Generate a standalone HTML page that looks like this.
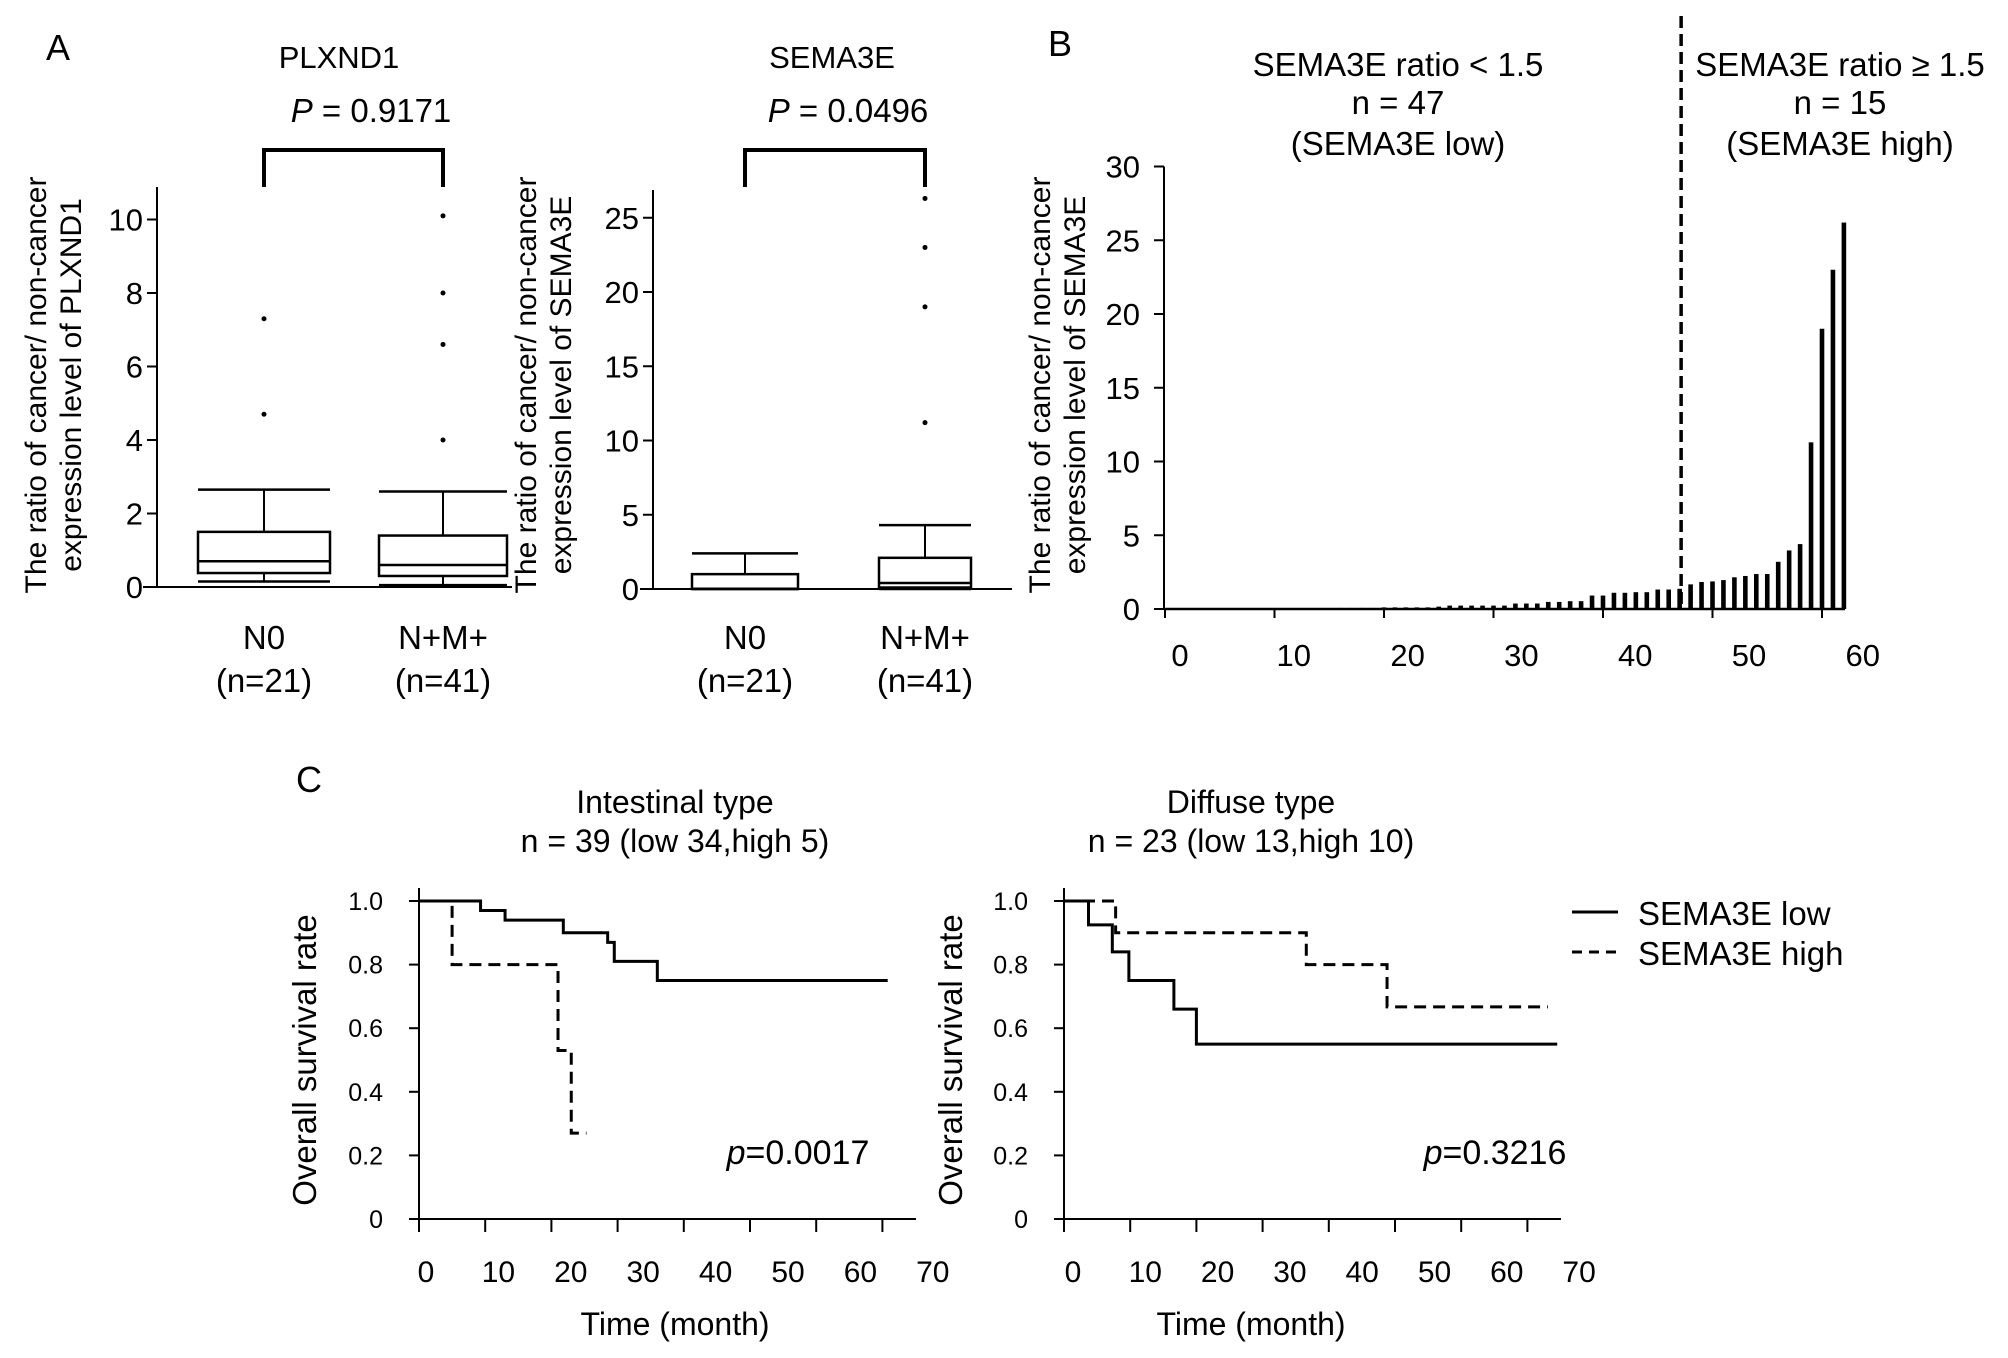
<!DOCTYPE html>
<html><head><meta charset="utf-8"><style>
html,body{margin:0;padding:0;background:#fff;}
svg{display:block;font-family:"Liberation Sans",Arial,sans-serif;}
</style></head><body>
<svg id="fig" width="2008" height="1358" viewBox="0 0 2008 1358" xmlns="http://www.w3.org/2000/svg">
<rect width="2008" height="1358" fill="#fff"/>
<g id="root"></g>
</svg>
<script>
// ---- Panel A data ----
const plxGroups = ["N0", "N+M+"];
const plxN = ["(n=21)", "(n=41)"];
const plxLowWhisker = [0.15, 0.05];
const plxQ1 = [0.38, 0.3];
const plxMedian = [0.7, 0.6];
const plxQ3 = [1.5, 1.4];
const plxHighWhisker = [2.65, 2.6];
const plxOutliersN0 = [4.7, 7.3];
const plxOutliersNM = [4.0, 6.6, 8.0, 10.1];
const plxTicks = [0, 2, 4, 6, 8, 10];

const semaLowWhisker = [0, 0];
const semaQ1 = [0, 0.1];
const semaMedian = [0.02, 0.4];
const semaQ3 = [1.0, 2.1];
const semaHighWhisker = [2.4, 4.3];
const semaOutliersN0 = [];
const semaOutliersNM = [11.2, 19.0, 23.0, 26.3];
const semaTicks = [0, 5, 10, 15, 20, 25];

// ---- Panel B data ----
const ratioValues = [0,0,0,0,0,0,0,0,0,0,0,0,0,0,0,
 0.07,0.07,0.07,0.07,0.11,0.11,0.11,0.11,0.11,0.16,
 0.23,0.23,0.23,0.23,0.23,0.23,0.37,0.37,0.37,0.48,0.48,0.53,0.53,
 0.91,0.91,1.1,1.1,1.14,1.14,1.32,1.32,1.37,
 1.67,1.83,1.87,1.96,2.15,2.24,2.37,2.37,3.2,3.97,4.4,11.3,19.0,23.0,26.2];
const ratioYTicks = [0, 5, 10, 15, 20, 25, 30];
const ratioXTicks = [0, 10, 20, 30, 40, 50, 60];
const cutoffIndex = 47.5;

// ---- Panel C data (step points: [time, survival]) ----
const intLowT = [0, 9.3, 13, 21.8, 28.5, 29.5, 36, 70.8];
const intLowS = [1.0, 0.97, 0.94, 0.90, 0.87, 0.81, 0.75, 0.75];
const intHighT = [0, 5, 21, 23, 25.3];
const intHighS = [1.0, 0.8, 0.53, 0.27, 0.27];
const difLowT = [0, 3.7, 7.3, 9.8, 16.6, 20, 74.5];
const difLowS = [1.0, 0.925, 0.84, 0.75, 0.66, 0.55, 0.55];
const difHighT = [0, 7.8, 36.6, 48.8, 73.1];
const difHighS = [1.0, 0.9, 0.8, 0.667, 0.667];
const kmYTicks = ["0", "0.2", "0.4", "0.6", "0.8", "1.0"];
const kmYVals = [0, 0.2, 0.4, 0.6, 0.8, 1.0];
const kmXTicks = [0, 10, 20, 30, 40, 50, 60, 70];

const NS = "http://www.w3.org/2000/svg";
const root = document.getElementById('root');
function mk(tag, attrs, parent, text) {
  const e = document.createElementNS(NS, tag);
  for (const k in attrs) e.setAttribute(k, attrs[k]);
  if (text !== undefined) e.textContent = text;
  (parent || root).appendChild(e);
  return e;
}
function line(x1, y1, x2, y2, p, w, dash) {
  const a = {x1, y1, x2, y2, stroke: '#000', 'stroke-width': w || 2};
  if (dash) a['stroke-dasharray'] = dash;
  return mk('line', a, p);
}
function txt(x, y, s, size, anchor, p, extra) {
  const a = {x, y, 'font-size': size, 'text-anchor': anchor || 'middle', fill: '#000'};
  if (extra) for (const k in extra) a[k] = extra[k];
  return mk('text', a, p, s);
}

// Panel letters
let t;
t = txt(46, 60, 'A', 36, 'start');  
t = txt(1048, 56, 'B', 36, 'start');  
t = txt(296, 792, 'C', 36, 'start');  

// ---------- Box plot panel ----------
function boxPanel(cfg) {
  const g = mk('g', {});
  
  
  const y = v => cfg.y0 - v * cfg.k;
  line(cfg.ax, cfg.top, cfg.ax, cfg.y0, g, 2);
  line(cfg.bx1, cfg.y0, cfg.bx2, cfg.y0, g, 2);
  cfg.ticks.forEach(v => {
    line(cfg.ax - 10, y(v), cfg.ax, y(v), g, 2);
    const tl = txt(cfg.ax - 14, y(v) + 11, String(v), 31, 'end', g);
    
    
  });
  for (let i = 0; i < 2; i++) {
    const xc = cfg.xc[i], hw = cfg.hw[i];
    const bg = mk('g', {}, g);
    
    
    line(xc, y(cfg.hiW[i]), xc, y(cfg.q3[i]), bg, 2);
    line(xc - hw, y(cfg.hiW[i]), xc + hw, y(cfg.hiW[i]), bg, 2.5);
    line(xc, y(cfg.q1[i]), xc, y(cfg.loW[i]), bg, 2);
    line(xc - hw, y(cfg.loW[i]), xc + hw, y(cfg.loW[i]), bg, 2.5);
    mk('rect', {x: xc - hw, y: y(cfg.q3[i]), width: 2 * hw, height: y(cfg.q1[i]) - y(cfg.q3[i]), fill: 'none', stroke: '#000', 'stroke-width': 2.5}, bg);
    line(xc - hw, y(cfg.med[i]), xc + hw, y(cfg.med[i]), bg, 2.5);
    cfg.out[i].forEach(v => {
      const c = mk('circle', {cx: xc, cy: y(v), r: 2.5, fill: '#000'}, bg);
      
      
    });
    const l1 = txt(xc, 649, plxGroups[i], 33, 'middle', g);
    
    
    const l2 = txt(xc, 692, plxN[i], 33, 'middle', g);
    
    
  }
  const br = mk('path', {d: `M${cfg.xc[0]},187 V150 H${cfg.xc[1]} V187`, fill: 'none', stroke: '#000', 'stroke-width': 4}, g);
  
  
  const ti = txt(cfg.titleX, 68, cfg.title, 31, 'middle', g);
  
  
  const pv = mk('text', {x: cfg.pX, y: 122, 'font-size': 33, 'text-anchor': 'middle'}, g);
  
  
  mk('tspan', {'font-style': 'italic'}, pv, 'P');
  mk('tspan', {}, pv, ' = ' + cfg.p);
  const yl = mk('text', {transform: `translate(${cfg.ylx},${cfg.yly}) rotate(-90)`, 'font-size': 30, 'text-anchor': 'middle'}, g);
  
  
  mk('tspan', {x: 0, y: 0}, yl, 'The ratio of cancer/ non-cancer');
  mk('tspan', {x: 0, y: 35}, yl, 'expression level of ' + cfg.title);
}
boxPanel({name: 'plxnd1-boxplot', ax: 157, top: 187, y0: 587, k: 36.75, bx1: 143, bx2: 512,
  ticks: plxTicks, xc: [264, 443], hw: [66, 64], loW: plxLowWhisker, q1: plxQ1, med: plxMedian, q3: plxQ3, hiW: plxHighWhisker,
  out: [plxOutliersN0, plxOutliersNM], title: 'PLXND1', titleX: 339, pX: 371, p: '0.9171', ylx: 46, yly: 385});
boxPanel({name: 'sema3e-boxplot', ax: 653, top: 190, y0: 589, k: 14.85, bx1: 640, bx2: 1012,
  ticks: semaTicks, xc: [745, 925], hw: [53, 46], loW: semaLowWhisker, q1: semaQ1, med: semaMedian, q3: semaQ3, hiW: semaHighWhisker,
  out: [semaOutliersN0, semaOutliersNM], title: 'SEMA3E', titleX: 832, pX: 848, p: '0.0496', ylx: 536, yly: 385});

// ---------- Panel B ----------
(function () {
  const g = mk('g', {});
  
  
  const x = i => 1165 + i * 10.95;
  const y = v => 609 - v * 14.75;
  line(1164, y(30), 1164, 609, g, 2);
  line(1164, 609, 1845, 609, g, 2.5);
  ratioYTicks.forEach(v => {
    line(1154, y(v), 1164, y(v), g, 2);
    const tl = txt(1140, y(v) + 11, String(v), 31, 'end', g);
    
    
  });
  ratioXTicks.forEach((v, i) => {
    line(x(v), 609, x(v), 618, g, 2);
    const tl = txt(1180 + i * 113.8, 666, String(v), 31, 'middle', g);
    
    
  });
  ratioValues.forEach((v, i) => {
    const h = v * 14.75;
    const r = mk('rect', {x: x(i + 1) - 2.3, y: 609 - h, width: 4.6, height: h, fill: '#000'}, g);
    
    
  });
  const d = line(x(cutoffIndex) - 4, 16, x(cutoffIndex) - 4, 609, g, 3.5, '12,6');
  
  
  const lowT = ['SEMA3E ratio < 1.5', 'n = 47', '(SEMA3E low)'];
  const highT = ['SEMA3E ratio \u2265 1.5', 'n = 15', '(SEMA3E high)'];
  const ys = [76, 114, 155];
  lowT.forEach((s, i) => { const e = txt(1398, ys[i], s, 33, 'middle', g);   });
  highT.forEach((s, i) => { const e = txt(1840, ys[i], s, 33, 'middle', g);   });
  const yl = mk('text', {transform: 'translate(1050,385) rotate(-90)', 'font-size': 30, 'text-anchor': 'middle'}, g);
  
  
  mk('tspan', {x: 0, y: 0}, yl, 'The ratio of cancer/ non-cancer');
  mk('tspan', {x: 0, y: 35}, yl, 'expression level of SEMA3E');
})();

// ---------- Panel C ----------
function kmPanel(cfg) {
  const g = mk('g', {});
  
  
  const x = tt => cfg.ax + tt * 6.62;
  const y = s => 1219 - s * 318;
  line(cfg.ax, 888, cfg.ax, 1219, g, 2);
  line(cfg.ax, 1219, cfg.ax + 497, 1219, g, 2);
  kmYVals.forEach((v, i) => {
    line(cfg.ax - 10, y(v), cfg.ax, y(v), g, 2);
    const tl = txt(cfg.ax - 36, y(v) + 9, kmYTicks[i], 25, 'end', g);
    
    
  });
  kmXTicks.forEach((v, i) => {
    line(x(v), 1219, x(v), 1232, g, 2);
    const tl = txt(cfg.lx0 + i * cfg.lstep, 1282, String(v), 30, 'middle', g);
    
    
  });
  function step(T, S, dash, nm) {
    let d = `M${x(T[0])},${y(S[0])}`;
    for (let i = 1; i < T.length; i++) d += ` H${x(T[i])} V${y(S[i])}`;
    const a = {d, fill: 'none', stroke: '#000', 'stroke-width': 3};
    if (dash) a['stroke-dasharray'] = dash;
    const p = mk('path', a, g);
    
    
  }
  step(cfg.lowT, cfg.lowS, null, 'km-curve-sema3e-low');
  step(cfg.highT, cfg.highS, '12,7', 'km-curve-sema3e-high');
  const t1 = txt(cfg.tx, 813, cfg.t1, 32, 'middle', g);
  
  
  const t2 = txt(cfg.tx, 852, cfg.t2, 32, 'middle', g);
  
  
  const pv = mk('text', {x: cfg.px, y: 1164, 'font-size': 34, 'text-anchor': 'middle'}, g);
  
  
  mk('tspan', {'font-style': 'italic'}, pv, 'p');
  mk('tspan', {}, pv, '=' + cfg.p);
  const xl = txt(cfg.tx, 1335, 'Time (month)', 32, 'middle', g);
  
  
  const yl = txt(0, 0, 'Overall survival rate', 33, 'middle', g, {transform: `translate(${cfg.ylx},1060) rotate(-90)`});
  
  
}
kmPanel({name: 'km-intestinal', ax: 419, lx0: 426, lstep: 72.4, lowT: intLowT, lowS: intLowS, highT: intHighT, highS: intHighS,
  tx: 675, t1: 'Intestinal type', t2: 'n = 39 (low 34,high 5)', px: 798, p: '0.0017', ylx: 316});
kmPanel({name: 'km-diffuse', ax: 1064, lx0: 1073, lstep: 72.3, lowT: difLowT, lowS: difLowS, highT: difHighT, highS: difHighS,
  tx: 1251, t1: 'Diffuse type', t2: 'n = 23 (low 13,high 10)', px: 1495, p: '0.3216', ylx: 962});

// legend
(function () {
  const g = mk('g', {});
  
  
  const a = mk('g', {}, g);
  
  
  line(1572, 912, 1618, 912, a, 3);
  txt(1638, 925, 'SEMA3E low', 33, 'start', a);
  const b = mk('g', {}, g);
  
  
  line(1572, 952, 1618, 952, b, 3, '10,7');
  txt(1638, 965, 'SEMA3E high', 33, 'start', b);
})();
</script>
</body></html>
